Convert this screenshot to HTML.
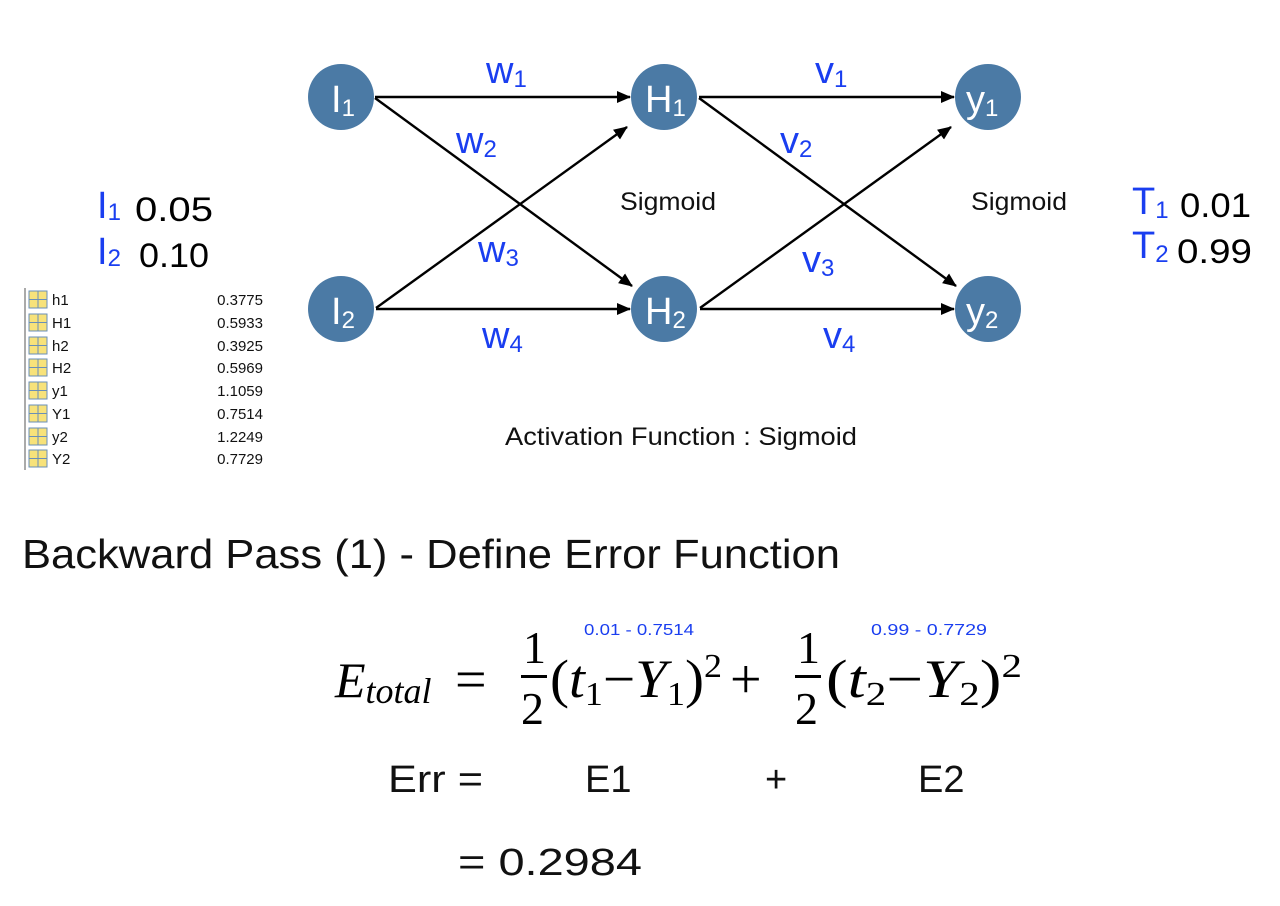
<!DOCTYPE html>
<html><head><meta charset="utf-8"><style>
body{margin:0;background:#fff;width:1280px;height:906px;overflow:hidden;font-family:"Liberation Sans",sans-serif}
</style></head><body>
<svg width="1280" height="906" xmlns="http://www.w3.org/2000/svg" style="position:absolute;left:0;top:0">
<defs><marker id="a" markerWidth="14" markerHeight="12" refX="13" refY="6" orient="auto" markerUnits="userSpaceOnUse"><path d="M0,0 L14,6 L0,12z" fill="#000"/></marker></defs>
<g stroke="#000" stroke-width="2.4" fill="none" marker-end="url(#a)">
<line x1="375" y1="97" x2="630" y2="97"/>
<line x1="375" y1="98" x2="632" y2="286"/>
<line x1="376" y1="308" x2="627" y2="127"/>
<line x1="376" y1="309" x2="630" y2="309"/>
<line x1="699" y1="97" x2="954" y2="97"/>
<line x1="699" y1="98" x2="956" y2="286"/>
<line x1="700" y1="308" x2="951" y2="127"/>
<line x1="700" y1="309" x2="954" y2="309"/>
</g>
<g fill="#4b7aa5">
<circle cx="341" cy="97" r="33"/><circle cx="341" cy="309" r="33"/>
<circle cx="664" cy="97" r="33"/><circle cx="664" cy="309" r="33"/>
<circle cx="988" cy="97" r="33"/><circle cx="988" cy="309" r="33"/>
</g>
<g fill="#fff" font-size="38" font-family="Liberation Sans">
<text x="331" y="112">I<tspan font-size="24" dy="4">1</tspan></text>
<text x="331" y="324">I<tspan font-size="24" dy="4">2</tspan></text>
<text x="645" y="112">H<tspan font-size="24" dy="4">1</tspan></text>
<text x="645" y="324">H<tspan font-size="24" dy="4">2</tspan></text>
<text x="966" y="112">y<tspan font-size="24" dy="4">1</tspan></text>
<text x="966" y="324">y<tspan font-size="24" dy="4">2</tspan></text>
</g>
<g fill="#1a3ef0" font-size="38">
<text x="486" y="83">w<tspan font-size="24" dy="4">1</tspan></text>
<text x="456" y="153">w<tspan font-size="24" dy="4">2</tspan></text>
<text x="478" y="262">w<tspan font-size="24" dy="4">3</tspan></text>
<text x="482" y="348">w<tspan font-size="24" dy="4">4</tspan></text>
<text x="815" y="83">v<tspan font-size="24" dy="4">1</tspan></text>
<text x="780" y="153">v<tspan font-size="24" dy="4">2</tspan></text>
<text x="802" y="272">v<tspan font-size="24" dy="4">3</tspan></text>
<text x="823" y="348">v<tspan font-size="24" dy="4">4</tspan></text>
<text x="97" y="218">I<tspan font-size="24" dy="2">1</tspan></text>
<text x="97" y="264">I<tspan font-size="24" dy="2">2</tspan></text>
<text x="1132" y="214">T<tspan font-size="24" dy="4">1</tspan></text>
<text x="1132" y="258">T<tspan font-size="24" dy="4">2</tspan></text>
</g>
<g fill="#000" font-size="34">
<text x="135" y="221" textLength="78" lengthAdjust="spacingAndGlyphs">0.05</text>
<text x="139" y="267" textLength="70" lengthAdjust="spacingAndGlyphs">0.10</text>
<text x="1180" y="217" textLength="71" lengthAdjust="spacingAndGlyphs">0.01</text>
<text x="1177" y="263" textLength="75" lengthAdjust="spacingAndGlyphs">0.99</text>
</g>
<g fill="#111" font-size="25">
<text x="620" y="210" textLength="96" lengthAdjust="spacingAndGlyphs">Sigmoid</text>
<text x="971" y="210" textLength="96" lengthAdjust="spacingAndGlyphs">Sigmoid</text>
<text x="505" y="445" textLength="352" lengthAdjust="spacingAndGlyphs">Activation Function : Sigmoid</text>
</g>
<line x1="25" y1="288" x2="25" y2="470" stroke="#aaa" stroke-width="2"/>
<g>
<g fill="#f7e27a" stroke="#6a8fb8" stroke-width="1">
<rect x="29" y="291" width="18" height="17"/><rect x="29" y="314" width="18" height="17"/>
<rect x="29" y="337" width="18" height="17"/><rect x="29" y="359" width="18" height="17"/>
<rect x="29" y="382" width="18" height="17"/><rect x="29" y="405" width="18" height="17"/>
<rect x="29" y="428" width="18" height="17"/><rect x="29" y="450" width="18" height="17"/>
</g>
<g stroke="#6a8fb8" stroke-width="1">
<path d="M38,291v17M29,299.5h18M38,314v17M29,322.5h18M38,337v17M29,345.5h18M38,359v17M29,367.5h18M38,382v17M29,390.5h18M38,405v17M29,413.5h18M38,428v17M29,436.5h18M38,450v17M29,458.5h18"/>
</g>
<g font-size="15" fill="#111">
<text x="52" y="305">h1</text><text x="52" y="328">H1</text><text x="52" y="351">h2</text><text x="52" y="373">H2</text>
<text x="52" y="396">y1</text><text x="52" y="419">Y1</text><text x="52" y="442">y2</text><text x="52" y="464">Y2</text>
</g>
<g font-size="15" fill="#111" text-anchor="end">
<text x="263" y="305">0.3775</text><text x="263" y="328">0.5933</text><text x="263" y="351">0.3925</text><text x="263" y="373">0.5969</text>
<text x="263" y="396">1.1059</text><text x="263" y="419">0.7514</text><text x="263" y="442">1.2249</text><text x="263" y="464">0.7729</text>
</g>
</g>
<text x="22" y="568" font-size="41" fill="#111" textLength="818" lengthAdjust="spacingAndGlyphs">Backward Pass (1) - Define Error Function</text>
<g fill="#1a3ef0" font-size="16">
<text x="584" y="635" textLength="110" lengthAdjust="spacingAndGlyphs">0.01 - 0.7514</text>
<text x="871" y="635" textLength="116" lengthAdjust="spacingAndGlyphs">0.99 - 0.7729</text>
</g>
<g font-family="Liberation Serif" fill="#000">
<text x="335" y="697" font-size="50" font-style="italic">E<tspan font-size="36" dy="6">total</tspan></text>
<text x="455" y="698" font-size="56">=</text>
<text x="523" y="663" font-size="46">1</text>
<rect x="521" y="675" width="26" height="3"/>
<text x="521" y="724" font-size="46">2</text>
<text x="550" y="697" font-size="54" textLength="172" lengthAdjust="spacingAndGlyphs">(<tspan font-style="italic">t</tspan><tspan font-size="34" dy="8">1</tspan><tspan dy="-8">−</tspan><tspan font-style="italic">Y</tspan><tspan font-size="34" dy="8">1</tspan><tspan dy="-8">)</tspan><tspan font-size="34" dy="-20">2</tspan></text>
<text x="730" y="698" font-size="56">+</text>
<text x="797" y="663" font-size="46">1</text>
<rect x="795" y="675" width="26" height="3"/>
<text x="795" y="724" font-size="46">2</text>
<text x="826" y="697" font-size="54" textLength="196" lengthAdjust="spacingAndGlyphs">(<tspan font-style="italic">t</tspan><tspan font-size="34" dy="8">2</tspan><tspan dy="-8">−</tspan><tspan font-style="italic">Y</tspan><tspan font-size="34" dy="8">2</tspan><tspan dy="-8">)</tspan><tspan font-size="34" dy="-20">2</tspan></text>
</g>
<g font-size="38" fill="#111">
<text x="388" y="792" textLength="95" lengthAdjust="spacingAndGlyphs">Err =</text>
<text x="585" y="792">E1</text>
<text x="765" y="792">+</text>
<text x="918" y="792">E2</text>
<text x="458" y="875" textLength="184" lengthAdjust="spacingAndGlyphs">= 0.2984</text>
</g>
</svg>
</body></html>
